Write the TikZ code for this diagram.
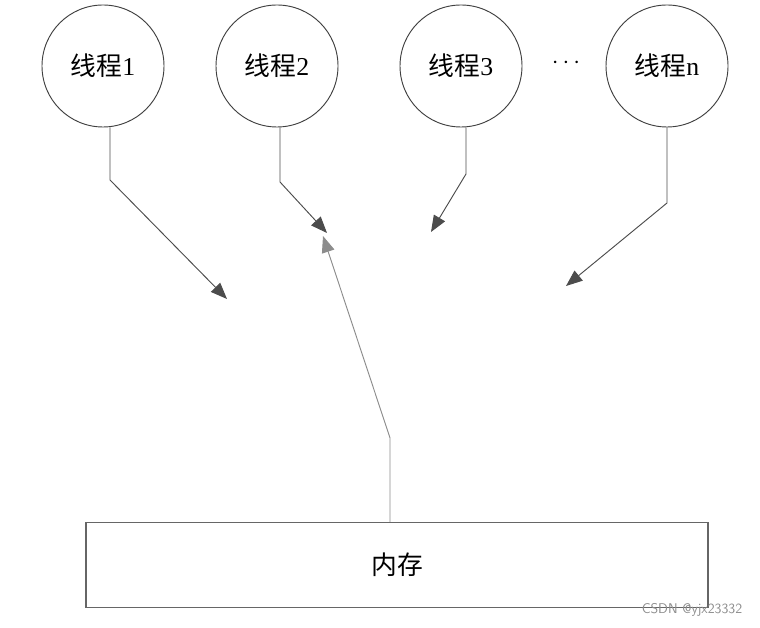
\documentclass[tikz,border=0pt]{standalone}
\usepackage{fontspec}
\setmainfont{Liberation Serif}
\newfontfamily\cjk{Noto Sans CJK SC}
\usepackage{xcolor}
\usetikzlibrary{arrows.meta}

\begin{document}
\begin{tikzpicture}[x=0.03cm,y=-0.03cm,
    thread/.style={draw=black!75, line width=0.8pt, circle, minimum size=3.66cm, inner sep=0pt, font=\fontsize{22}{26}\selectfont},
    link/.style={draw=black!70, line width=0.8pt, -{Triangle[length=14pt,width=11pt]}}]
\useasboundingbox (0,0) rectangle (760,628);

    \node[thread] (t1) at (103,66) {{\cjk 线程}1};
    \node[thread] (t2) at (277,66) {{\cjk 线程}2};
    \node[thread] (t3) at (461,66) {{\cjk 线程}3};
    \node[thread] (tn) at (667,66) {{\cjk 线程}n};
    \node (dots) at (566,63) {\fontsize{20}{24}\selectfont $\cdots$};

    \node[draw=black!60, line width=1pt, minimum width=18.66cm, minimum height=2.55cm,
          font=\fontsize{22}{26}\selectfont] (mem) at (397,565) {\cjk 内存};

    % turning points and tips of the arrows
    \coordinate (b1) at (110,180);  \coordinate (e1) at (227,299);
    \coordinate (b2) at (280,182);  \coordinate (e2) at (327,233);
    \coordinate (b3) at (466,174);  \coordinate (e3) at (431,232);
    \coordinate (bn) at (667,203);  \coordinate (en) at (566,286);
    \coordinate (bm) at (390,438);  \coordinate (em) at (323,236);

    % draw the arrows
    \draw[link] (t1.south -| b1) -- (b1) -- (e1);
    \draw[link] (t2.south -| b2) -- (b2) -- (e2);
    \draw[link] (t3.south -| b3) -- (b3) -- (e3);
    \draw[link] (tn.south -| bn) -- (bn) -- (en);
    \draw[link, draw=black!45] (mem.north -| bm) -- (bm) -- (em);

    \node[text=black!45, font=\sffamily\fontsize{12}{14}\selectfont] (mark) at (692,610) {CSDN @yjx23332};
\end{tikzpicture}
\end{document}
